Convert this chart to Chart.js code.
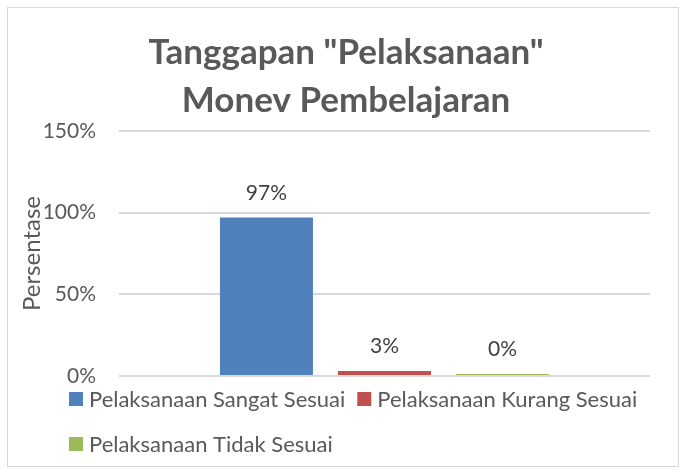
<!DOCTYPE html>
<html>
<head>
<meta charset="utf-8">
<script src="https://cdn.jsdelivr.net/npm/chart.js@4"></script>
<style>
  html, body { margin: 0; padding: 0; background: #fff; }
  #box { position: absolute; left: 7px; top: 7px; width: 670px; height: 458px;
         border: 1px solid #d9d9d9; }
</style>
</head>
<body>
<div id="box"><canvas id="chart" width="670" height="458"></canvas></div>
<script>
// Tanggapan "Pelaksanaan" Monev Pembelajaran — bar chart, one category, three series.

const TITLE_LINES = ['Tanggapan "Pelaksanaan"', 'Monev Pembelajaran'];
const CATEGORIES = [''];
const SERIES_NAMES = ['Pelaksanaan Sangat Sesuai', 'Pelaksanaan Kurang Sesuai', 'Pelaksanaan Tidak Sesuai'];
const SANGAT_SESUAI = [97];
const KURANG_SESUAI = [3];
const TIDAK_SESUAI = [0];
const Y_TICKS = [0, 50, 100, 150];
const COLORS = ['#4f81bd', '#c0504d', '#9bbb59'];

const FONT = 'Lato, Carlito, Calibri, "Open Sans", sans-serif';
const TEXT = '#595959';

// value above each bar
const valueLabels = {
    id: 'valueLabels',
    afterDatasetsDraw(chart) {
        const ctx = chart.ctx;
        ctx.save();
        ctx.font = '21px ' + FONT;
        ctx.fillStyle = '#404040';
        ctx.textAlign = 'center';
        ctx.textBaseline = 'bottom';
        chart.data.datasets.forEach((ds, i) => {
            chart.getDatasetMeta(i).data.forEach((bar, j) => {
                ctx.fillText(ds.data[j] + '%', bar.x, Math.min(bar.y, bar.base) - 14);
            });
        });
        ctx.restore();
    }
};

// Excel-like legend under the plot (left aligned, wraps to a second row)
const bottomLegend = {
    id: 'bottomLegend',
    afterDraw(chart, args, opts) {
        const ctx = chart.ctx;
        ctx.save();
        ctx.font = opts.size + 'px ' + FONT;
        ctx.textBaseline = 'middle';
        ctx.textAlign = 'left';
        let x = opts.left, y = opts.top;
        chart.data.datasets.forEach(ds => {
            const w = opts.box + opts.gap + ctx.measureText(ds.label).width;
            if (x > opts.left && x + w > chart.width - 8) { x = opts.left; y += opts.rowHeight; }
            ctx.fillStyle = ds.backgroundColor;
            ctx.fillRect(x, y, opts.box, opts.box);
            ctx.fillStyle = TEXT;
            ctx.fillText(ds.label, x + opts.box + opts.gap, y + opts.box / 2 + 1);
            x += w + opts.spacing;
        });
        ctx.restore();
    }
};

const seriesData = [SANGAT_SESUAI, KURANG_SESUAI, TIDAK_SESUAI];

new Chart(document.getElementById('chart').getContext('2d'), {
    type: 'bar',
    data: {
        labels: CATEGORIES,
        datasets: SERIES_NAMES.map((name, i) => ({
            label: name,
            data: seriesData[i],
            backgroundColor: COLORS[i],
            borderWidth: 0,
            minBarLength: 2,
            categoryPercentage: 0.667,
            barPercentage: 0.788
        }))
    },
    options: {
        responsive: false, animation: false,
        // left padding nudges the title right like the original; the axis title sits in it
        layout: { padding: { left: 34, right: 28, top: 10, bottom: 82 } },
        plugins: {
            title: {
                display: true, text: TITLE_LINES, color: TEXT,
                font: { family: FONT, size: 35, weight: 'bold', lineHeight: 48 / 35 },
                padding: { top: 11, bottom: 6 }
            },
            legend: { display: false },
            tooltip: { enabled: false },
            bottomLegend: { left: 61, top: 384, box: 14, gap: 6, spacing: 12, rowHeight: 45, size: 22 }
        },
        scales: {
            x: {
                grid: { display: false }, border: { display: false },
                ticks: { display: false }
            },
            y: {
                min: 0, max: 150,
                afterBuildTicks: axis => { axis.ticks = Y_TICKS.map(v => ({ value: v })); },
                afterFit: axis => { axis.width = 77; },
                grid: { color: '#d9d9d9', lineWidth: 2, drawTicks: false },
                border: { display: false },
                ticks: { color: TEXT, padding: 23, font: { family: FONT, size: 21 },
                         callback: v => v + '%' },
                title: { display: true, text: 'Persentase', color: TEXT,
                         font: { family: FONT, size: 24 }, padding: { top: -24, bottom: 0 } }
            }
        }
    },
    plugins: [valueLabels, bottomLegend]
});
</script>
</body>
</html>
